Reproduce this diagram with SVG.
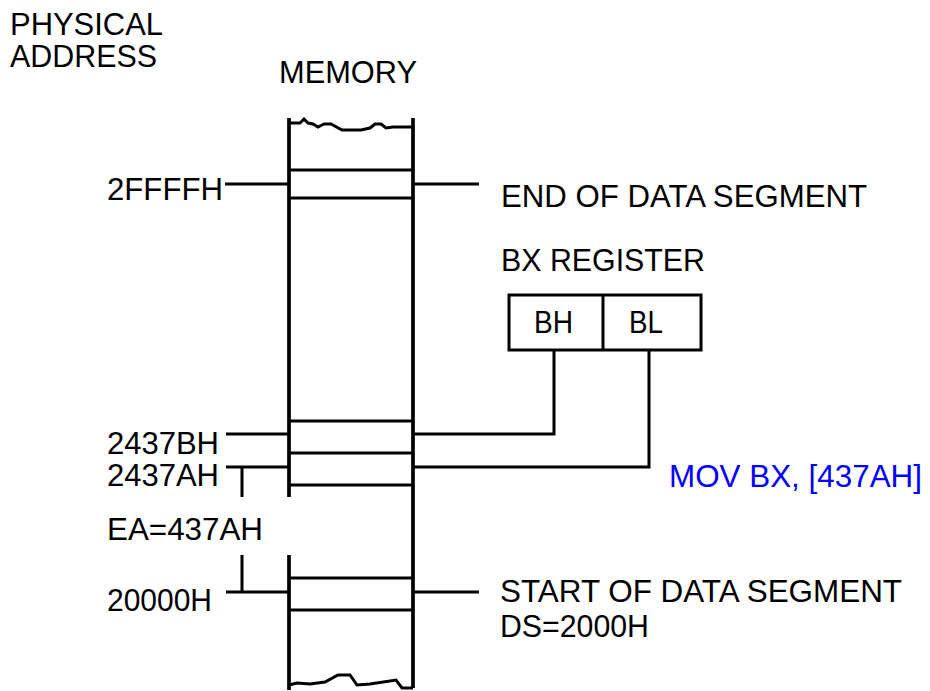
<svg xmlns="http://www.w3.org/2000/svg" width="930" height="691" viewBox="0 0 930 691">
<style>
text{font-family:"Liberation Sans",Arial,sans-serif;font-size:31px;fill:#000}
.blue{fill:#0000ff}
.ln{stroke:#000;stroke-width:3;fill:none}
.mem{stroke:#000;stroke-width:3.7;fill:none}
</style>
<rect width="930" height="691" fill="#fff"/>
<g id="titles">
<text x="10" y="35" textLength="153" lengthAdjust="spacingAndGlyphs">PHYSICAL</text>
<text x="10" y="67" textLength="147" lengthAdjust="spacingAndGlyphs">ADDRESS</text>
<text x="279" y="83" textLength="138" lengthAdjust="spacingAndGlyphs">MEMORY</text>
</g>
<g id="memory">
<path class="mem" d="M289,118 V497 M289,555 V690 M413,118 V688"/>
<path class="ln" d="M289,123 L300,123 L304,119 L308,123 L313,124 L318,127 L324,124 L331,124 L342,130 L361,130 L370,128 L375,124 L381,124 L386,128 L393,127 L413,127"/>
<path class="ln" d="M289,685 L297,683 L310,684 L325,682 L338,675 L350,675 L357,685 L370,684 L396,680 L402,688 L413,688"/>
<path class="ln" d="M289,170 H413 M289,198 H413 M289,421 H413 M289,453 H413 M289,485 H413 M289,578 H413 M289,610 H413"/>
</g>
<g id="register">
<rect x="509" y="295" width="192" height="55" class="ln"/>
<line x1="603" y1="295" x2="603" y2="350" class="ln"/>
<text x="534" y="333" textLength="39" lengthAdjust="spacingAndGlyphs">BH</text>
<text x="629" y="333" textLength="34" lengthAdjust="spacingAndGlyphs">BL</text>
<text x="501" y="271" textLength="204" lengthAdjust="spacingAndGlyphs">BX REGISTER</text>
</g>
<g id="labels">
<text x="107" y="200" textLength="116" lengthAdjust="spacingAndGlyphs">2FFFFH</text>
<text x="107" y="454" textLength="112" lengthAdjust="spacingAndGlyphs">2437BH</text>
<text x="107" y="486" textLength="112" lengthAdjust="spacingAndGlyphs">2437AH</text>
<text x="107" y="540" textLength="156" lengthAdjust="spacingAndGlyphs">EA=437AH</text>
<text x="107" y="611" textLength="105" lengthAdjust="spacingAndGlyphs">20000H</text>
<text x="501" y="207" textLength="366" lengthAdjust="spacingAndGlyphs">END OF DATA SEGMENT</text>
<text x="500" y="602" textLength="402" lengthAdjust="spacingAndGlyphs">START OF DATA SEGMENT</text>
<text x="500" y="637" textLength="149" lengthAdjust="spacingAndGlyphs">DS=2000H</text>
<text class="blue" x="669" y="487" textLength="253" lengthAdjust="spacingAndGlyphs">MOV BX, [437AH]</text>
</g>
<g id="connectors">
<path class="ln" d="M225,184 H289 M413,184 H479"/>
<path class="ln" d="M226,434 H289 M226,467 H289 M226,592 H289"/>
<path class="ln" d="M242,467 V497 M242,555 V592"/>
<path class="ln" d="M413,592 H479"/>
<path class="ln" d="M554,350 V434 H413"/>
<path class="ln" d="M649,350 V467 H413"/>
</g>
</svg>
